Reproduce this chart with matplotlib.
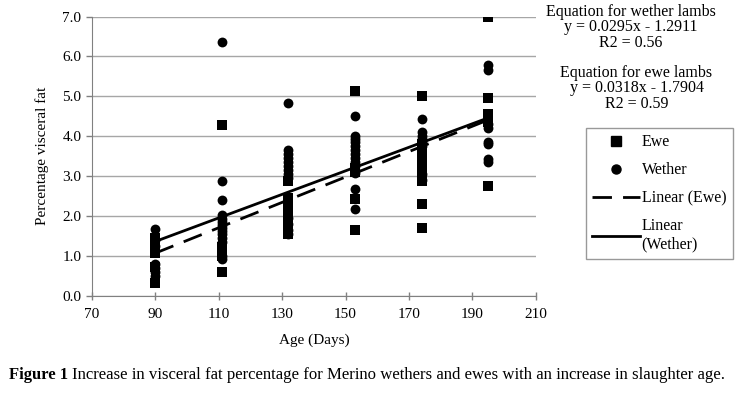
import numpy as np
import matplotlib
matplotlib.use("Agg")
import matplotlib.pyplot as plt
from matplotlib.lines import Line2D

plt.rcParams['font.family'] = ['Liberation Serif', 'DejaVu Serif']

# slaughter ages (days) and visceral fat (%)
ewe_age = [90]*8 + [111]*6 + [132]*9 + [153]*5 + [174]*10 + [195]*6
ewe_fat = [1.45, 1.38, 1.30, 1.22, 1.15, 1.08, 0.72, 0.33,
           4.28, 1.22, 1.15, 1.08, 1.00, 0.61,
           2.88, 2.45, 2.38, 2.25, 2.15, 2.05, 1.85, 1.70, 1.55,
           5.13, 3.10, 3.20, 2.42, 1.65,
           5.02, 3.80, 3.60, 3.45, 3.30, 3.15, 3.00, 2.88, 2.30, 1.70,
           7.00, 4.95, 4.55, 4.45, 4.35, 2.76]

wether_age = [90]*7 + [111]*14 + [132]*13 + [153]*14 + [174]*8 + [195]*8
wether_fat = [1.68, 1.40, 1.25, 0.80, 0.70, 0.60, 0.50,
              6.36, 2.88, 2.40, 2.02, 1.92, 1.85, 1.78, 1.70, 1.62, 1.55, 1.45, 1.35, 1.00, 0.92,
              4.84, 3.65, 3.55, 3.45, 3.35, 3.25, 3.15, 3.05, 2.95, 1.95, 1.80, 1.65, 1.55,
              4.52, 4.00, 3.92, 3.85, 3.75, 3.65, 3.55, 3.45, 3.35, 3.25, 3.15, 3.08, 2.68, 2.18,
              4.43, 4.10, 4.00, 3.92, 3.85, 3.75, 3.05, 2.90,
              5.78, 5.65, 4.30, 4.20, 3.85, 3.80, 3.42, 3.35]

# fitted equations printed on the chart
wether_slope, wether_icpt = 0.0295, -1.2911
ewe_slope, ewe_icpt = 0.0318, -1.7904

fig = plt.figure(figsize=(7.35, 3.94), dpi=100)
ax = fig.add_axes([0.125, 0.249, 0.604, 0.709])

ax.scatter(ewe_age, ewe_fat, marker='s', s=50, color='black', zorder=3, linewidths=0)
ax.scatter(wether_age, wether_fat, marker='o', s=50, color='black', zorder=3, linewidths=0)

xs = np.array([min(ewe_age), max(ewe_age)])
ax.plot(xs, ewe_slope*xs + ewe_icpt, color='black', lw=2, dashes=(7, 4), zorder=4)
xs = np.array([min(wether_age), max(wether_age)])
ax.plot(xs, wether_slope*xs + wether_icpt, color='black', lw=2, zorder=4)

ax.set_xlim(70, 210)
ax.set_ylim(0, 7)
ax.set_xticks(range(70, 211, 20))
ax.set_yticks(np.arange(0, 7.01, 1))
ax.set_yticklabels([f"{v:.1f}" for v in np.arange(0, 7.01, 1)])
ax.yaxis.grid(True, color='#a6a6a6', lw=1)
ax.set_axisbelow(True)
for s in ['top', 'right']:
    ax.spines[s].set_visible(False)
for s in ['left', 'bottom']:
    ax.spines[s].set_color('#808080')
ax.tick_params(axis='both', labelsize=11, colors='black', length=4, width=1)
ax.tick_params(axis='x', direction='inout', length=6, pad=6, color='#808080')
ax.tick_params(axis='y', color='#808080')
ax.set_xlabel("Age (Days)", fontsize=11, labelpad=9)
ax.set_ylabel("Percentage visceral fat", fontsize=11, labelpad=10)

fig.text(0.858, 0.99, "Equation for wether lambs\ny = 0.0295x - 1.2911\nR2 = 0.56",
         ha='center', va='top', fontsize=11.5, linespacing=0.95)
fig.text(0.866, 0.835, "Equation for ewe lambs\ny = 0.0318x - 1.7904\nR2 = 0.59",
         ha='center', va='top', fontsize=11.5, linespacing=0.95)

handles = [Line2D([], [], marker='s', ls='none', color='black', ms=6.5),
           Line2D([], [], marker='o', ls='none', color='black', ms=6.5),
           Line2D([], [], color='black', lw=2, dashes=(7, 4)),
           Line2D([], [], color='black', lw=2)]
leg = fig.legend(handles, ["Ewe", "Wether", "Linear (Ewe)", "Linear\n(Wether)"],
                 loc='upper left', bbox_to_anchor=(0.797, 0.675), fontsize=11.5,
                 frameon=True, fancybox=False, edgecolor='#808080',
                 handlelength=3.0, handletextpad=0.1, labelspacing=0.75,
                 borderpad=0.4, borderaxespad=0)
leg.get_frame().set_linewidth(1)

fig.text(0.012, 0.048, "Figure 1", fontsize=12, fontweight='bold', ha='left', va='center')
fig.text(0.098, 0.048, "Increase in visceral fat percentage for Merino wethers and ewes with an increase in slaughter age.",
         fontsize=12.1, ha='left', va='center')

fig.savefig("out.png", dpi=100)
